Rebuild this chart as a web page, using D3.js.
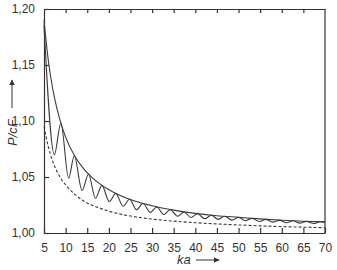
<!DOCTYPE html>
<html>
  <head>
    <meta charset="utf-8">
    <title>P/cF vs ka</title>
    <script src="https://d3js.org/d3.v7.min.js"></script>
    <style>
      body { margin: 0; background: #fff; }
      svg { display: block; }
      .domain, .tick line { stroke: #333; stroke-width: 1.2; }
    </style>
  </head>
  <body>
    <svg id="chart" width="337" height="270"></svg>
    <script>
      // data
      var xTicks = [5, 10, 15, 20, 25, 30, 35, 40, 45, 50, 55, 60, 65, 70];
      var yTicks = [1.00, 1.05, 1.10, 1.15, 1.20];
      // upper envelope (solid)
      var envKa  = [5, 6, 7, 8, 9, 10, 12, 14, 16, 18, 20, 23, 26, 30, 35, 40, 45, 50, 55, 60, 65, 70];
      var envVal = [1.190, 1.154, 1.129, 1.111, 1.097, 1.0856, 1.0694, 1.0581, 1.0499, 1.0436, 1.0387, 1.0329,
                    1.0285, 1.0243, 1.0204, 1.0175, 1.0154, 1.0140, 1.0126, 1.0114, 1.0105, 1.0099];
      // oscillating curve (solid), peaks and troughs
      var oscKa  = [5, 7.4, 8.9, 10.7, 12.0, 13.8, 15.3, 16.9, 18.4, 20.1, 21.6, 23.3, 24.8, 26.4, 27.9, 29.6,
                    31.1, 32.7, 34.2, 35.9, 37.4, 39.0, 40.5, 42.2, 43.7, 45.3, 46.8, 48.5, 50.0, 51.6, 53.1,
                    54.8, 56.3, 57.9, 59.4, 61.1, 62.6, 64.2, 65.7, 67.4, 68.9, 70];
      var oscVal = [1.186, 1.070, 1.098, 1.049, 1.069, 1.038, 1.0525, 1.031, 1.0425, 1.0280, 1.0353, 1.0239,
                    1.0301, 1.0208, 1.0263, 1.0184, 1.0232, 1.0165, 1.0208, 1.0150, 1.0188, 1.0138, 1.0172,
                    1.0127, 1.0159, 1.0122, 1.0149, 1.0115, 1.0140, 1.0110, 1.0131, 1.0103, 1.0122, 1.0097,
                    1.0115, 1.0092, 1.0109, 1.0088, 1.0104, 1.0085, 1.0100, 1.0095];
      // lower curve (dashed)
      var dashKa  = [5, 6, 7, 8, 9, 10, 12, 14, 16, 18, 20, 23, 26, 30, 35, 40, 45, 50, 55, 60, 65, 70];
      var dashVal = [1.095, 1.077, 1.064, 1.055, 1.048, 1.043, 1.035, 1.029, 1.025, 1.022, 1.0195, 1.0166,
                     1.0145, 1.0124, 1.0106, 1.0092, 1.0081, 1.0072, 1.0064, 1.0057, 1.0052, 1.0047];

      var font = "'Liberation Sans', Arial, sans-serif";
      var ink = "#333";
      var svg = d3.select("#chart");
      var margin = { top: 9, right: 12, bottom: 37, left: 44 };
      var width = 337 - margin.left - margin.right;
      var height = 270 - margin.top - margin.bottom;
      var g = svg.append("g")
        .attr("transform", "translate(" + margin.left + "," + margin.top + ")");

      var x = d3.scaleLinear().domain([5, 70]).range([0, width]);
      var y = d3.scaleLinear().domain([1.00, 1.20]).range([height, 0]);
      var comma = function(d) { return d3.format(".2f")(d).replace(".", ","); };

      // axes, ticks pointing inward
      g.append("g")
        .attr("transform", "translate(0," + height + ")")
        .call(d3.axisBottom(x).tickValues(xTicks).tickSize(-5).tickSizeOuter(0).tickPadding(10))
        .attr("font-family", font).attr("font-size", 12);
      g.append("g")
        .call(d3.axisTop(x).tickValues(xTicks.slice(1, -1)).tickSize(-4).tickSizeOuter(0).tickFormat(""));
      g.append("g")
        .call(d3.axisLeft(y).tickValues(yTicks).tickSize(-5).tickSizeOuter(0).tickPadding(9).tickFormat(comma))
        .attr("font-family", font).attr("font-size", 12);
      g.selectAll(".tick text").attr("fill", ink);
      g.append("line")
        .attr("x1", width).attr("x2", width)
        .attr("y1", 0).attr("y2", height)
        .attr("stroke", ink).attr("stroke-width", 1.2);

      // curves
      var line = d3.line()
        .x(function(d) { return x(d[0]); })
        .y(function(d) { return y(d[1]); })
        .curve(d3.curveMonotoneX);
      var curves = g.append("g")
        .attr("fill", "none").attr("stroke", "#3a3a3a").attr("stroke-width", 1.1);
      curves.append("path")
        .datum(d3.zip(envKa, envVal))
        .attr("d", line);
      curves.append("path")
        .datum(d3.zip(oscKa, oscVal))
        .attr("d", line);
      curves.append("path")
        .datum(d3.zip(dashKa, dashVal))
        .attr("d", line)
        .attr("stroke-dasharray", "3,2");

      // axis titles with arrows
      svg.append("defs").append("marker")
        .attr("id", "arrow")
        .attr("viewBox", "0 0 10 10")
        .attr("refX", 9).attr("refY", 5)
        .attr("markerWidth", 6).attr("markerHeight", 6)
        .attr("markerUnits", "userSpaceOnUse")
        .attr("orient", "auto")
        .append("path")
          .attr("d", "M0,0L10,5L0,10Z")
          .attr("fill", ink);
      svg.append("text")
        .attr("x", 177).attr("y", 264)
        .attr("font-family", font).attr("font-size", 13).attr("font-style", "italic").attr("fill", ink)
        .text("ka");
      svg.append("line")
        .attr("x1", 196).attr("x2", 219).attr("y1", 260).attr("y2", 260)
        .attr("stroke", ink).attr("stroke-width", 1)
        .attr("marker-end", "url(#arrow)");
      svg.append("text")
        .attr("transform", "translate(17,146) rotate(-90)")
        .attr("font-family", font).attr("font-size", 13).attr("font-style", "italic").attr("fill", ink)
        .text("P/cF");
      svg.append("line")
        .attr("x1", 12).attr("x2", 12).attr("y1", 108).attr("y2", 80)
        .attr("stroke", ink).attr("stroke-width", 1)
        .attr("marker-end", "url(#arrow)");
    </script>
  </body>
</html>
